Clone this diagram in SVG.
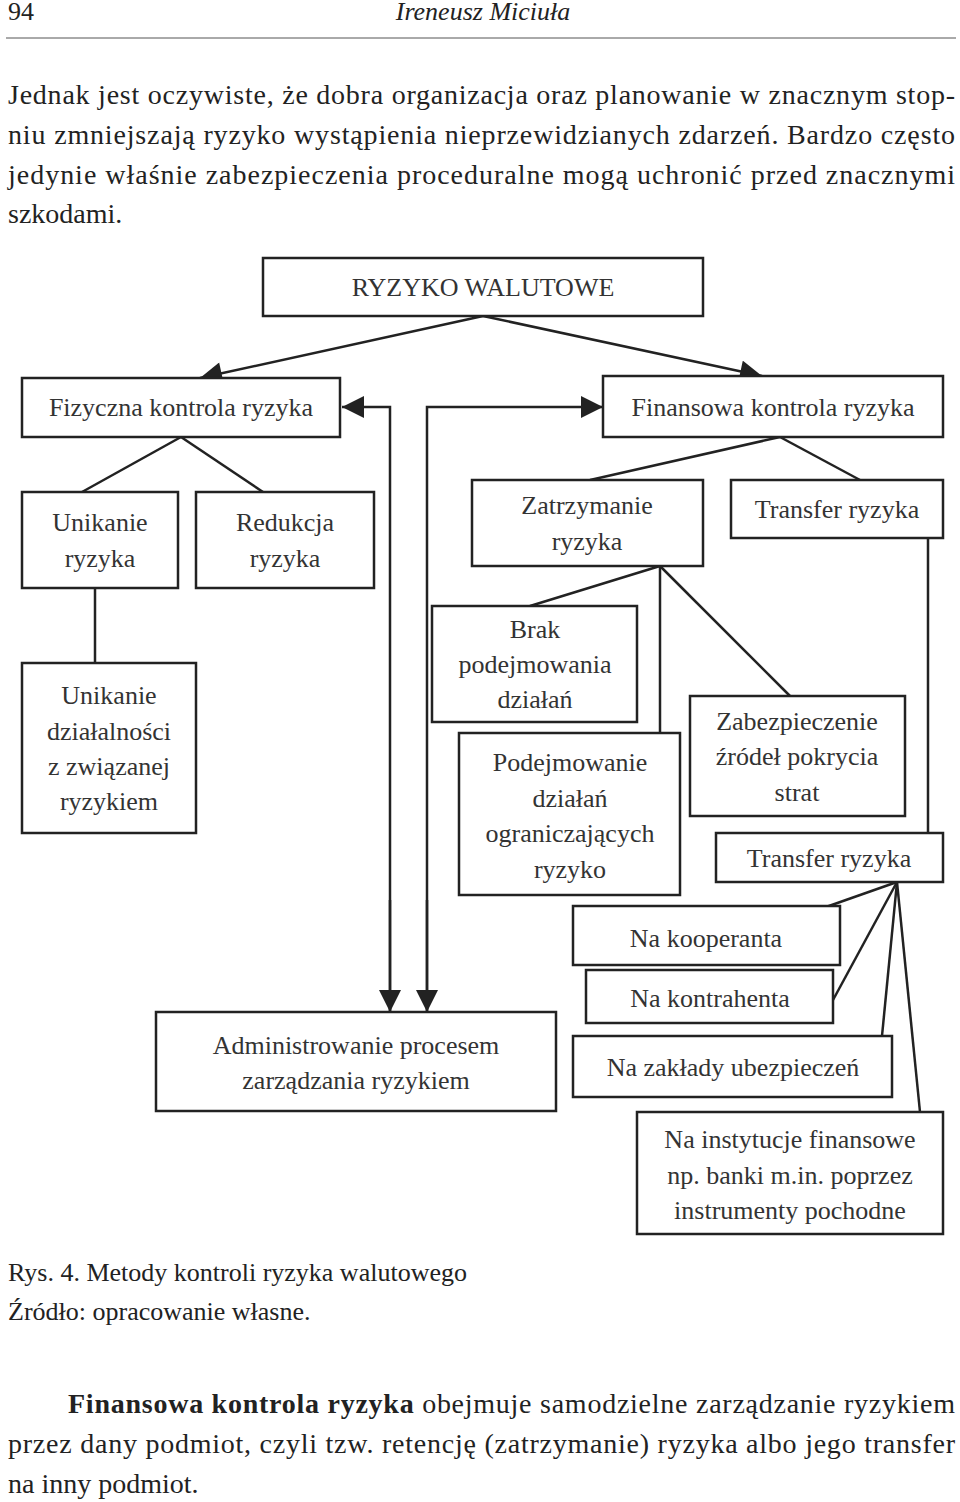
<svg xmlns="http://www.w3.org/2000/svg" width="960" height="1502" viewBox="0 0 960 1502">
<style>
text{font-family:"Liberation Serif","Times New Roman",serif;fill:#333}
.n rect{fill:#fff;stroke:#222;stroke-width:2.5}
.n text{font-size:26px;text-anchor:middle}
.b{font-size:28px;fill:#222}
#c line,#c polyline{stroke:#222;stroke-width:2.5;fill:none}
</style>
<defs>
<marker id="m" viewBox="0 0 10 10" refX="10" refY="5" markerWidth="24" markerHeight="22" markerUnits="userSpaceOnUse" orient="auto"><path d="M0,0L10,5L0,10z" fill="#222"/></marker></defs>
<text x="8" y="20" class="b" style="font-size:26px">94</text>
<text x="483" y="20" class="b" style="font-size:26px;font-style:italic" text-anchor="middle">Ireneusz Miciuła</text>
<line x1="6" y1="38" x2="956" y2="38" stroke="#555" stroke-width="1"/>
<text x="8" y="104" class="b" textLength="947" lengthAdjust="spacing">Jednak jest oczywiste, że dobra organizacja oraz planowanie w znacznym stop-</text>
<text x="8" y="144" class="b" textLength="947" lengthAdjust="spacing">niu zmniejszają ryzyko wystąpienia nieprzewidzianych zdarzeń. Bardzo często</text>
<text x="8" y="184" class="b" textLength="947" lengthAdjust="spacing">jedynie właśnie zabezpieczenia proceduralne mogą uchronić przed znacznymi</text>
<text x="8" y="223" class="b">szkodami.</text>
<g id="c">
<line x1="483" y1="316" x2="200" y2="378" marker-end="url(#m)"/>
<line x1="483" y1="316" x2="762" y2="376" marker-end="url(#m)"/>
<polyline points="390,1012 390,407 342,407" marker-end="url(#m)"/>
<line x1="390" y1="900" x2="390" y2="1012" marker-end="url(#m)"/>
<polyline points="427,1012 427,407 603,407" marker-end="url(#m)"/>
<line x1="427" y1="900" x2="427" y2="1012" marker-end="url(#m)"/>
<line x1="181" y1="437" x2="82" y2="492"/>
<line x1="181" y1="437" x2="263" y2="492"/>
<line x1="780" y1="437" x2="590" y2="480"/>
<line x1="780" y1="437" x2="860" y2="480"/>
<line x1="95" y1="588" x2="95" y2="663"/>
<line x1="660" y1="566" x2="530" y2="606"/>
<line x1="660" y1="566" x2="660" y2="733"/>
<line x1="660" y1="566" x2="790" y2="696"/>
<line x1="928" y1="538" x2="928" y2="833"/>
<line x1="897" y1="882" x2="826" y2="907"/>
<line x1="897" y1="882" x2="833" y2="1000"/>
<line x1="897" y1="882" x2="882" y2="1036"/>
<line x1="897" y1="882" x2="920" y2="1112"/>
</g>
<g class="n" id="n1"><rect x="263" y="258" width="440" height="58"/><text x="483" y="296">RYZYKO WALUTOWE</text></g>
<g class="n" id="n2"><rect x="22" y="378" width="318" height="59"/><text x="181" y="416">Fizyczna kontrola ryzyka</text></g>
<g class="n" id="n3"><rect x="603" y="376" width="340" height="61"/><text x="773" y="416">Finansowa kontrola ryzyka</text></g>
<g class="n" id="n4"><rect x="22" y="492" width="156" height="96"/><text x="100" y="531">Unikanie</text><text x="100" y="567">ryzyka</text></g>
<g class="n" id="n5"><rect x="196" y="492" width="178" height="96"/><text x="285" y="531">Redukcja</text><text x="285" y="567">ryzyka</text></g>
<g class="n" id="n6"><rect x="472" y="480" width="231" height="86"/><text x="587" y="514">Zatrzymanie</text><text x="587" y="550">ryzyka</text></g>
<g class="n" id="n7"><rect x="731" y="480" width="212" height="58"/><text x="837" y="518">Transfer ryzyka</text></g>
<g class="n" id="n8"><rect x="22" y="663" width="174" height="170"/><text x="109" y="704">Unikanie</text><text x="109" y="740">działalności</text><text x="109" y="775">z związanej</text><text x="109" y="810">ryzykiem</text></g>
<g class="n" id="n9"><rect x="432" y="606" width="205" height="116"/><text x="535" y="638">Brak</text><text x="535" y="673">podejmowania</text><text x="535" y="708">działań</text></g>
<g class="n" id="n10"><rect x="459" y="733" width="221" height="162"/><text x="570" y="771">Podejmowanie</text><text x="570" y="807">działań</text><text x="570" y="842">ograniczających</text><text x="570" y="878">ryzyko</text></g>
<g class="n" id="n11"><rect x="690" y="696" width="215" height="120"/><text x="797" y="730">Zabezpieczenie</text><text x="797" y="765">źródeł pokrycia</text><text x="797" y="801">strat</text></g>
<g class="n" id="n12"><rect x="716" y="833" width="227" height="49"/><text x="829" y="867">Transfer  ryzyka</text></g>
<g class="n" id="n13"><rect x="573" y="906" width="267" height="59"/><text x="706" y="947">Na kooperanta</text></g>
<g class="n" id="n14"><rect x="586" y="970" width="247" height="53"/><text x="710" y="1007">Na kontrahenta</text></g>
<g class="n" id="n15"><rect x="573" y="1036" width="319" height="61"/><text x="733" y="1076">Na zakłady ubezpieczeń</text></g>
<g class="n" id="n16"><rect x="637" y="1112" width="306" height="122"/><text x="790" y="1148">Na instytucje finansowe</text><text x="790" y="1184">np. banki m.in. poprzez</text><text x="790" y="1219">instrumenty pochodne</text></g>
<g class="n" id="n17"><rect x="156" y="1012" width="400" height="99"/><text x="356" y="1054">Administrowanie procesem</text><text x="356" y="1089">zarządzania ryzykiem</text></g>
<text x="8" y="1281" class="b" style="font-size:26px">Rys. 4. Metody kontroli ryzyka walutowego</text>
<text x="8" y="1320" class="b" style="font-size:26px">Źródło: opracowanie własne.</text>
<text x="68" y="1413" class="b" textLength="887" lengthAdjust="spacing"><tspan font-weight="bold">Finansowa kontrola ryzyka</tspan> obejmuje samodzielne zarządzanie ryzykiem</text>
<text x="8" y="1453" class="b" textLength="947" lengthAdjust="spacing">przez dany podmiot, czyli tzw. retencję (zatrzymanie) ryzyka albo jego transfer</text>
<text x="8" y="1493" class="b">na inny podmiot.</text>
</svg>
